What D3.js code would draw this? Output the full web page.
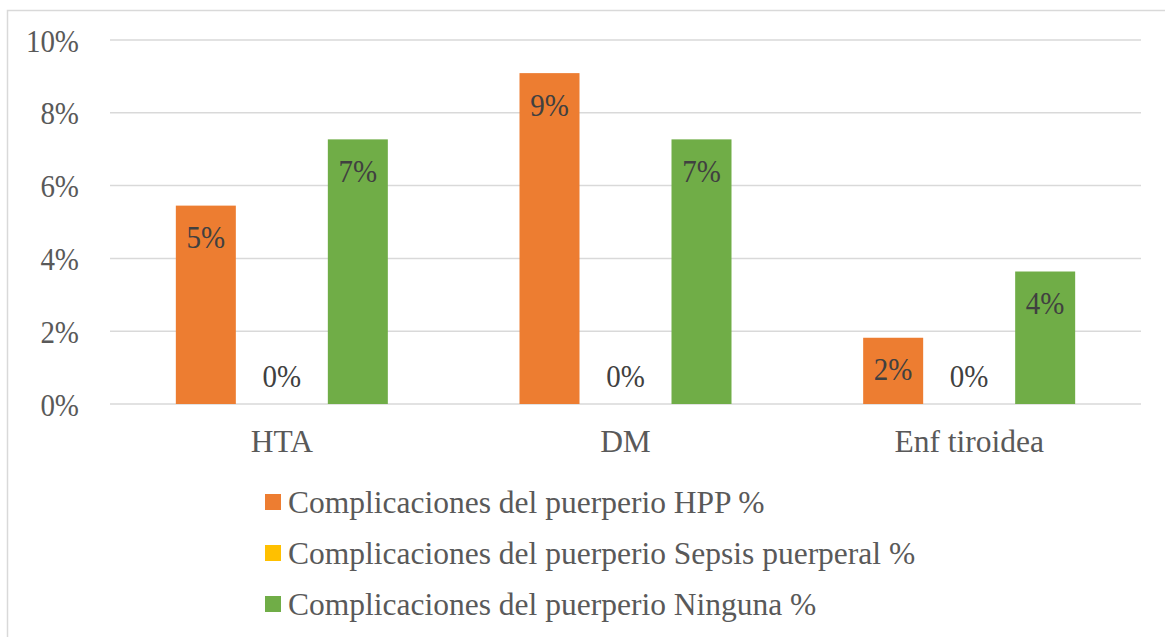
<!DOCTYPE html>
<html><head><meta charset="utf-8">
<script src="https://cdn.jsdelivr.net/npm/d3@7"></script>
<style>body{margin:0;background:#fff;}svg{display:block;} svg text{font-family:"Liberation Serif","Tinos","Times New Roman","DejaVu Serif",serif;}</style>
</head><body>
<svg id="c" width="1165" height="637"></svg>
<script>
const categories = ["HTA", "DM", "Enf tiroidea"];
const seriesNames = ["Complicaciones del puerperio HPP %", "Complicaciones del puerperio Sepsis puerperal %", "Complicaciones del puerperio Ninguna %"];
const hpp = [0.0545, 0.0909, 0.0182];
const sepsis = [0, 0, 0];
const ninguna = [0.0727, 0.0727, 0.0364];
const colors = ["#ED7D31", "#FFC000", "#70AD47"];
const yTicks = [0, 0.02, 0.04, 0.06, 0.08, 0.10];

const series = [hpp, sepsis, ninguna];
const svg = d3.select("#c");
const textColor = "#595959";
const fs = 31.5;

// chart border
svg.append("path").attr("d", "M7.5,637 L7.5,10.5 L1165,10.5").attr("fill","none").attr("stroke","#d9d9d9").attr("stroke-width",1.5);

const x0 = d3.scaleBand().domain(categories).range([110, 1141]).paddingInner(0).paddingOuter(0);
const y = d3.scaleLinear().domain([0, 0.10]).range([404, 40]);
const barW = 60, step = 76;

// gridlines
svg.append("g").selectAll("line").data(yTicks).join("line")
  .attr("x1", 110).attr("x2", 1141)
  .attr("y1", d => y(d)).attr("y2", d => y(d))
  .attr("stroke", "#d9d9d9").attr("stroke-width", 1.5);

// y axis labels
const yAxis = d3.axisLeft(y).tickValues(yTicks).tickFormat(d3.format(".0%")).tickSize(0).tickPadding(0);
const ya = svg.append("g").attr("transform", "translate(79,0)").call(yAxis);
ya.select(".domain").remove();
ya.attr("font-family", null).attr("font-size", null);
ya.selectAll("text").attr("font-size", fs).attr("fill", textColor).attr("x", 0).attr("dy", "0.35em")
  .attr("transform", "scale(0.92,1)");

// x axis labels
const xAxis = d3.axisBottom(x0).tickSize(0).tickPadding(0);
const xa = svg.append("g").attr("transform", "translate(0,441)").call(xAxis);
xa.select(".domain").remove();
xa.attr("font-family", null).attr("font-size", null);
xa.selectAll("text").attr("font-size", fs).attr("fill", textColor).attr("y", 0).attr("dy", "0.35em");

// bars
series.forEach((vals, si) => {
  const g = svg.append("g");
  const cx = i => x0(categories[i]) + x0.bandwidth()/2 + (si - 1) * step;
  g.selectAll("rect").data(vals).join("rect")
    .attr("x", (d, i) => cx(i) - barW/2)
    .attr("width", barW)
    .attr("y", d => y(d))
    .attr("height", d => y(0) - y(d))
    .attr("fill", colors[si]);
  g.selectAll("text").data(vals).join("text")
    .attr("transform", (d, i) => `translate(${cx(i)},${d > 0 ? y(d) + 42.5 : y(0) - 17}) scale(0.92,1)`)
    .attr("text-anchor", "middle")
    .attr("font-size", fs)
    .attr("fill", "#404040")
    .text(d => d3.format(".0%")(d));
});

// legend
const legY = [502, 553, 604];
const lg = svg.append("g");
seriesNames.forEach((name, i) => {
  lg.append("rect").attr("x", 265).attr("y", legY[i] - 8).attr("width", 16).attr("height", 16).attr("fill", colors[i]);
  lg.append("text").attr("x", 288).attr("y", legY[i]).attr("dy", "0.35em")
    .attr("font-size", fs).attr("fill", textColor).text(name);
});
</script>
</body></html>
